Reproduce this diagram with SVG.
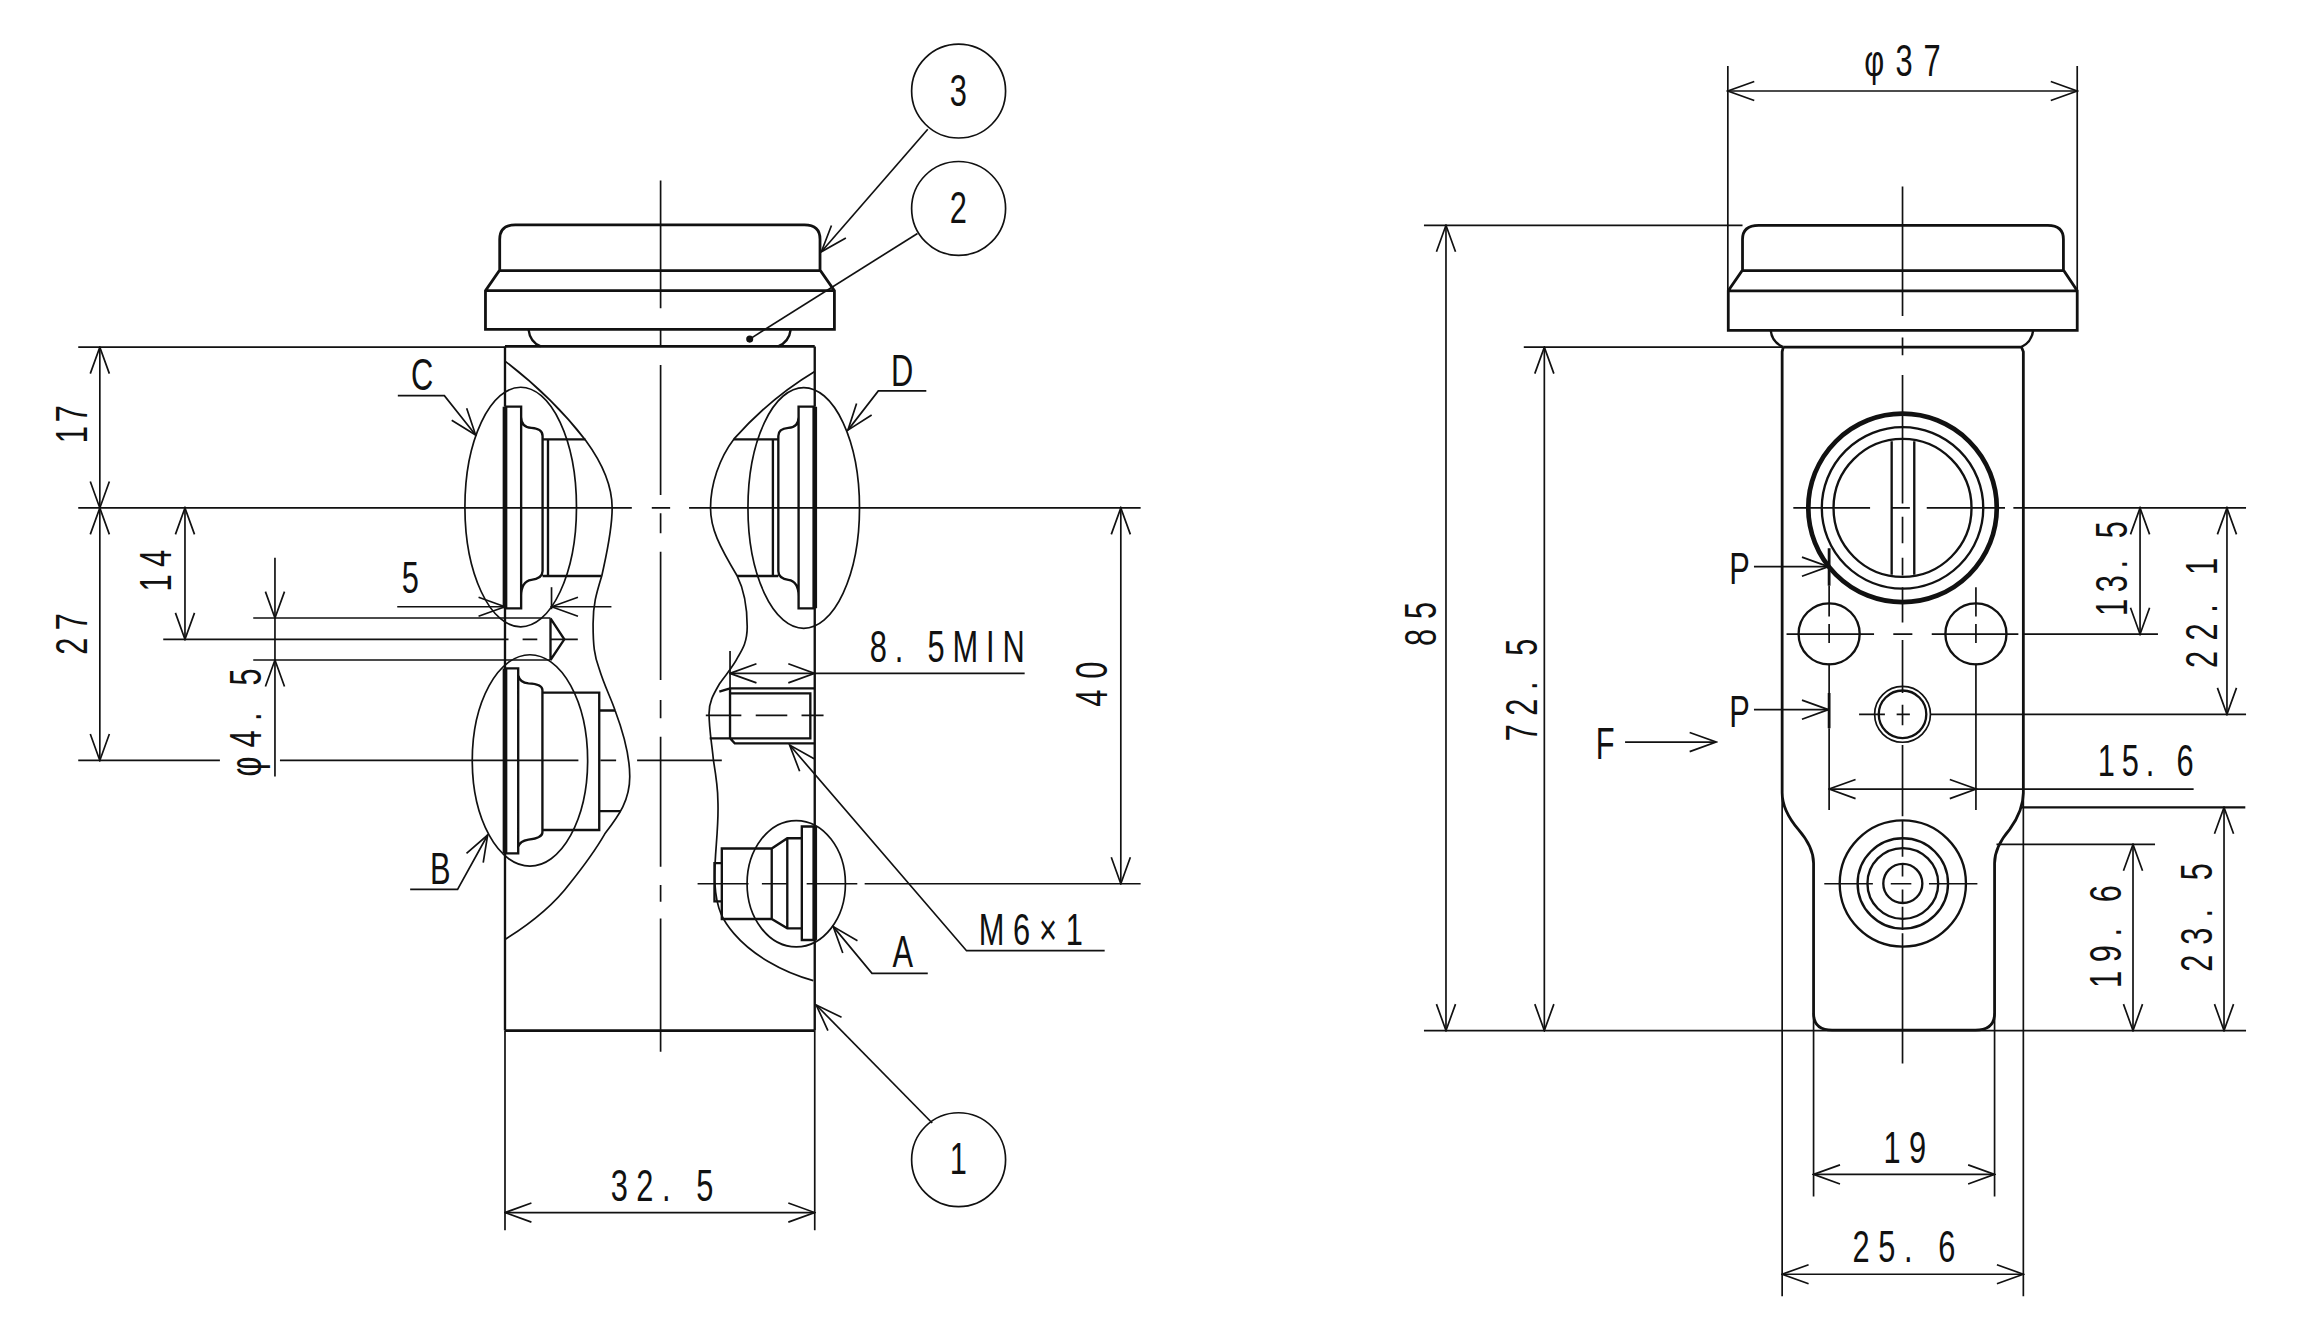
<svg xmlns="http://www.w3.org/2000/svg" width="2302" height="1320" viewBox="0 0 2302 1320">
<style>
path,circle,ellipse{fill:none;stroke:#111;stroke-width:1.15;stroke-linecap:butt}
.k{stroke-width:1.9}
.h{stroke-width:3.2}
.m{stroke-width:1.6}
.e{marker-end:url(#a)}
.d{marker-start:url(#a);marker-end:url(#a)}
.dot{fill:#111;stroke:none}
text{font-family:"Liberation Sans",Arial,sans-serif;font-size:30px;fill:#111}
</style>
<defs>
<marker id="a" markerUnits="userSpaceOnUse" viewBox="-21 -8 22 16" refX="0" refY="0" markerWidth="22" markerHeight="16" orient="auto-start-reverse">
<path d="M-18,-6.5L0,0L-18,6.5"/>
</marker>
</defs>
<rect width="2302" height="1320" fill="#fff"/>
<g transform="scale(1.468)">
<g id="connectors">
<path class="e" d="M632,88L559.5,171.5"/>
<path d="M625,159L510.7,231"/>
<circle class="dot" cx="510.7" cy="231" r="2.4"/>
<path class="e" d="M635,765L556,684.6"/>
<path class="e" d="M271,269.5H302.7L324,296.3"/>
<path class="e" d="M631,266.3H598.3L577.6,293"/>
<path class="e" d="M279.4,605.8H311.7L332.2,568.8"/>
<path class="e" d="M632,663H594L567.6,631.2"/>
<path class="e" d="M752.5,647.6H658.4L537.9,507.5"/>
<path d="M53.3,236.5H344M53.3,346H430.4M444,346H456.5M469.4,346H777M53.3,518H149.8M190.7,518H394M409,518H419.7M434,518H491.7"/>
<path class="d" d="M68,236.5V346"/>
<path class="d" d="M68,346V518"/>
<path d="M111.2,435.5H346.4M356,435.5H366M375,435.5H393.6"/>
<path class="d" d="M126,346V435.5"/>
<path d="M172.5,421H375M172.5,449.6H375"/>
<path d="M187.3,421V449.6"/>
<path class="e" d="M187.3,380V421"/>
<path class="e" d="M187.3,529V449.6"/>
<path class="e" d="M270.6,413.3H344"/>
<path class="e" d="M416.5,413.3H375.7"/>
<path d="M375.7,400V415"/>
<path d="M497.3,443.4V469"/>
<path class="d" d="M497.3,458.7H555"/>
<path d="M555,458.7H698"/>
<path d="M475.2,602H509.9M519,602H536M549.5,602H584M589,602H777"/>
<path class="d" d="M763.5,346V602"/>
<path d="M344,702V838M555,702V838"/>
<path class="d" d="M344,826H555"/>
<path d="M1177,45V198M1415,45V198"/>
<path class="d" d="M1177,62H1415"/>
<path d="M970,153.5H1187M970,702H1530M1038,236.5H1214"/>
<path class="d" d="M985,153.5V702"/>
<path class="d" d="M1052,236.5V702"/>
<path d="M1371.5,346H1530M1378.8,432H1470M1315,486.6H1530"/>
<path class="d" d="M1457.8,346V432"/>
<path class="d" d="M1517,346V486.6"/>
<path class="d" d="M1246,537.5H1346.2"/>
<path d="M1346.2,537.5H1494.3"/>
<path class="m" d="M1377,550H1529.5"/>
<path d="M1360,575.2H1468"/>
<path class="d" d="M1453,575.2V702"/>
<path class="d" d="M1515,550V702"/>
<path d="M1214,540V883M1378.3,540V883M1235.4,690V815M1358.7,690V815"/>
<path class="d" d="M1235.4,800H1358.7"/>
<path class="d" d="M1214,868H1378.3"/>
<path class="e" d="M1194.8,386H1245.5"/>
<path class="e" d="M1194.8,483.4H1245.5"/>
<path class="e" d="M1107,505.5H1169"/>
</g>
<g id="left-view">
<path d="M450,123V210M450,223.6V236M450,248.6V337.2M450,349.7V363.3M450,375.8V463.2M450,476.8V489.3M450,501.8V590.4M450,602.9V614.2M450,625.6V716.4"/>
<path class="k" d="M340.4,184V163Q340.4,153.2 351,153.2H548Q558.6,153.2 558.6,163V184L568.4,198V224.3H330.7V198L340.4,184ZM340.4,184.3H558.6M330.7,198H568.4"/>
<path class="m" d="M360,224.3Q361,233 368.4,236M538.7,224.3Q537.5,233 530,236"/>
<path class="k" d="M344,236H555"/>
<path class="k" d="M344,702H555"/>
<path class="m" d="M344,236V277M555,236V277M344,414V702M555,414V702"/>
</g>
<g id="port-c">
<path d="M344,246C365,262 385,282 399,300C410,315 417,330 417,346C417,362 413,378 410,392C406,405 404,412 404,425C404,440 405,447 408,455C412,468 416,475 419,484C425,500 429,515 429,529C429,545 422,555 412,568C404,582 396,592 388,602C376,618 360,630 344,640"/>
<path class="h" d="M344,277V414.4"/>
<path class="m" d="M344,277H355V414.4H344M355,277V284Q355,291 362,291.5Q369.6,292 369.6,297V389Q369.6,394 362,395Q355,396 355,406M373.3,299.3V392.4M369.6,299.3H398.8M369.6,392.4H409.8"/>
<ellipse cx="354.7" cy="345.4" rx="38" ry="81.6"/>
</g>
<g id="port-d">
<path d="M555,253C535,265 515,282 500,299C490,312 484,330 484,346C484,360 490,372 502,392C507,402 509,415 509,427C509,437 506,442 503,447C499,455 494,460 490,466C486,473 483,478 483,486C483,497 485,507 486,518C488,530 489,537 489,545C490,565 486,585 487,602C488,620 493,628 500,636C512,650 532,662 554,668"/>
<path class="h" d="M555,277V414.4"/>
<path class="m" d="M555,277H544V414.4H555M544,277V284Q544,291 537,291.5Q530.2,292 530.2,297V389Q530.2,394 537,395Q544,396 544,406M526.5,299.3V392.4M530.2,299.3H499.8M530.2,392.4H502"/>
<ellipse cx="547.5" cy="346" rx="38" ry="82"/>
</g>
<g id="port-b">
<path class="h" d="M344,455.3V581.3"/>
<path class="m" d="M344,455.3H353V581.3H344M353,455.3V460Q354,465 360,465.5Q369.5,466 369.5,470V567Q369.5,571 360,572Q354,573 353,577M369.5,471.8H408.2V565.4H369.5M408.2,484H419M408.2,552.5H423"/>
<ellipse cx="361" cy="518" rx="39.3" ry="72"/>
</g>
<g id="port-hole">
<path class="m" d="M375,421.2V449.6M375,421.2L384.4,435.5L375,449.6"/>
</g>
<g id="port-thread">
<path class="m" d="M555,468.9H497.3V503L500.5,506.4H555M497.3,472.3H552V503H497.3M497.3,469L490,471.2M483.4,503H497.3"/>
<path d="M480.8,487.3H505M514.8,487.3H536.3M546,487.3H561"/>
</g>
<g id="port-a">
<path class="h" d="M555,563V640.3"/>
<path class="m" d="M555,563H546.2V640.3H555M546.2,571H536.3L525.7,578H491.7V626H525.7L536.3,632.4H546.2M536.3,571V632.4M525.7,578V626M491.7,588H486.7V614H491.7"/>
<ellipse cx="542.4" cy="602" rx="33.5" ry="43"/>
</g>
<g id="right-view">
<path class="k" d="M1187,184V163Q1187,153.5 1198,153.5H1395Q1405.6,153.5 1405.6,163V184L1415,198V225H1177.3V198L1187,184ZM1187,184.3H1405.6M1177.3,198.2H1415"/>
<path class="m" d="M1206.2,225Q1207,233 1214.8,236.4M1385,225Q1384,233 1377,236.4"/>
<path class="k" d="M1214.8,236.4H1377L1378.3,239.6V540Q1378.3,552 1369,565Q1358.7,577 1358.7,588V690.3Q1358.7,701.7 1345.7,701.7H1248Q1235.4,701.7 1235.4,690.3V588Q1235.4,577 1225,565Q1214,552 1214,540V239.6L1214.8,236.4"/>
<path d="M1296,127V215.3M1296,229.9V242M1296,255.4V343M1296,352V370M1296,380V392M1296,400V424M1296,436V472M1296,507.5V556M1296,558.6V583.6M1296,588V597M1296,606V615.4M1296,617.6V633.6M1296,635.8V724.4"/>
<path d="M1221.6,346H1273.9M1288.6,346H1301M1312.5,346H1365.8"/>
<circle class="h" cx="1296" cy="346" r="64.2"/>
<circle class="m" cx="1296" cy="346" r="55"/>
<circle class="m" cx="1296" cy="346" r="47"/>
<path class="m" d="M1288.6,300.5V391.5M1304,300.5V391.5"/>
<path d="M1217,432H1276.6M1289.7,432H1302.7M1315.9,432H1374.9"/>
<circle class="m" cx="1246" cy="431.8" r="20.8"/>
<circle class="m" cx="1346" cy="431.8" r="20.8"/>
<path d="M1246,399V420M1246,425V438M1246,452V472M1246,496V551.8M1346,400V420M1346,425V438M1346,452V551.8"/>
<path class="k" d="M1246,373.4V399M1246,472V496"/>
<circle cx="1296" cy="486.6" r="19"/>
<circle class="m" cx="1296" cy="486.6" r="16.2"/>
<path d="M1266.4,486.6H1284M1292,486.6H1301M1296,480V494"/>
<circle class="m" cx="1296.2" cy="601.8" r="43"/>
<circle class="m" cx="1296.2" cy="601.8" r="30.8"/>
<circle class="m" cx="1296.2" cy="601.8" r="24.1"/>
<circle class="m" cx="1296.2" cy="601.8" r="13.3"/>
<path d="M1242.7,602H1275.8M1288,602H1302M1314,602H1347"/>
</g>
<g id="balloon-3"><circle cx="653" cy="62" r="32"/><text transform="translate(647,72) scale(.7,1)">3</text></g>
<g id="balloon-2"><circle cx="653" cy="142" r="32"/><text transform="translate(647,152) scale(.7,1)">2</text></g>
<g id="balloon-1"><circle cx="653" cy="790" r="32"/><text transform="translate(647,800) scale(.7,1)">1</text></g>
<g id="labels">
<text transform="translate(280,265.7) scale(.7,1)">C</text>
<text transform="translate(607,263) scale(.7,1)">D</text>
<text transform="translate(293,602) scale(.7,1)">B</text>
<text transform="translate(608,659) scale(.7,1)">A</text>
<text transform="translate(273.6,403.8) scale(.7,1)">5</text>
<text transform="translate(592.4,450.7) scale(.7,1)" textLength="150.9">8. 5MIN</text>
<text transform="translate(666.7,643.7) scale(.7,1)" textLength="101.4">M6×1</text>
<text transform="translate(416,818) scale(.7,1)" textLength="100">32. 5</text>
<text transform="translate(59,302) rotate(-90) scale(.7,1)" textLength="37.1">17</text>
<text transform="translate(59,446) rotate(-90) scale(.7,1)" textLength="40.6">27</text>
<text transform="translate(116.2,403) rotate(-90) scale(.7,1)" textLength="40.6">14</text>
<text transform="translate(177.5,529) rotate(-90) scale(.7,1)" textLength="105.3">φ4. 5</text>
<text transform="translate(754,481.4) rotate(-90) scale(.7,1)" textLength="43.9">40</text>
<text transform="translate(1270,52) scale(.7,1)" textLength="74.3">φ37</text>
<text transform="translate(978,440) rotate(-90) scale(.7,1)" textLength="42.9">85</text>
<text transform="translate(1047,505) rotate(-90) scale(.7,1)" textLength="100">72. 5</text>
<text transform="translate(1448.7,419.6) rotate(-90) scale(.7,1)" textLength="92.3">13. 5</text>
<text transform="translate(1510,455) rotate(-90) scale(.7,1)" textLength="107.2">22. 1</text>
<text transform="translate(1444.8,673) rotate(-90) scale(.7,1)" textLength="100">19. 6</text>
<text transform="translate(1507,662) rotate(-90) scale(.7,1)" textLength="105.8">23. 5</text>
<text transform="translate(1429,528.6) scale(.7,1)" textLength="93.3">15. 6</text>
<text transform="translate(1283,792) scale(.7,1)" textLength="41.5">19</text>
<text transform="translate(1262,860) scale(.7,1)" textLength="100">25. 6</text>
<text transform="translate(1178,398) scale(.7,1)">P</text>
<text transform="translate(1178,495) scale(.7,1)">P</text>
<text transform="translate(1087,517) scale(.7,1)">F</text>
</g>
</g>
</svg>
